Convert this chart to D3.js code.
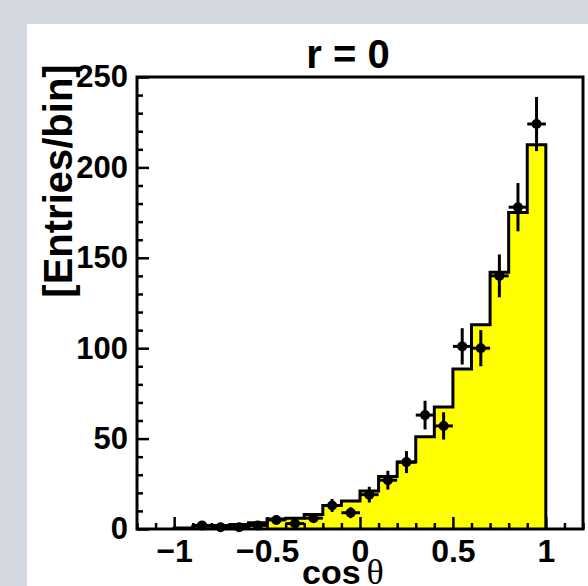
<!DOCTYPE html>
<html>
<head>
<meta charset="utf-8">
<script src="https://cdn.jsdelivr.net/npm/d3@7"></script>
<style>
  html, body { margin: 0; padding: 0; background: #d3d7e0; }
  svg { display: block; }
</style>
</head>
<body>
<svg id="chart" width="588" height="586"></svg>
<script>
// ---- data ----
const binEdges = [-1.0, -0.9, -0.8, -0.7, -0.6, -0.5, -0.4, -0.3, -0.2, -0.1, 0.0, 0.1, 0.2, 0.3, 0.4, 0.5, 0.6, 0.7, 0.8, 0.9, 1.0];
// expected (histogram) contents per bin
const histValues = [0.5, 1.5, 2, 2.5, 3.5, 5.5, 6, 8, 13, 15.5, 21, 29, 37, 51, 67.5, 88.5, 113, 142, 175, 212.5];
// measured data points: bin centres and entries
const dataX = [-0.85, -0.75, -0.65, -0.55, -0.45, -0.35, -0.25, -0.15, -0.05, 0.05, 0.15, 0.25, 0.35, 0.45, 0.55, 0.65, 0.75, 0.85, 0.95];
const dataY = [2, 1, 1, 2, 5, 3, 6, 13, 9, 19, 27, 37, 63, 57, 101, 100, 140, 178, 224];
const xTickValues = [-1, -0.5, 0, 0.5, 1];
const xTickLabels = ["\u22121", "\u22120.5", "0", "0.5", "1"];
const yTickValues = [0, 50, 100, 150, 200, 250];
const yTickLabels = ["0", "50", "100", "150", "200", "250"];
const titleText = "r = 0";
const yTitle = "[Entries/bin]";
const xTitleMain = "cos";
const xTitleSym = "\u03B8";

(function () {
// ---- layout ----
const svg = d3.select("#chart");
const W = 588, H = 586;
const mLeft = 137, mRight = 583, mTop = 77, mBottom = 529;
const x = d3.scaleLinear().domain([-1.2, 1.2]).range([mLeft, mRight]);
const y = d3.scaleLinear().domain([0, 250]).range([mBottom, mTop]);
const font = "'Liberation Sans', Arial, Helvetica, sans-serif";

// pad background
svg.append("rect").attr("x", 0).attr("y", 0).attr("width", W).attr("height", H).attr("fill", "#d3d7e0");
svg.append("rect").attr("x", 27).attr("y", 24).attr("width", W - 27).attr("height", H - 24).attr("fill", "#ffffff");

// histogram
const pts = [[x(binEdges[0]), y(0)]];
histValues.forEach((v, i) => {
  pts.push([x(binEdges[i]), y(v)]);
  pts.push([x(binEdges[i + 1]), y(v)]);
});
pts.push([x(binEdges[binEdges.length - 1]), y(0)]);
svg.append("path")
  .attr("d", d3.line()(pts))
  .attr("fill", "#ffff00")
  .attr("stroke", "#000")
  .attr("stroke-width", 3)
  .attr("stroke-linejoin", "miter");

// data points with error bars
const halfBin = 0.05;
const g = svg.append("g");
dataX.forEach((cx, i) => {
  const n = dataY[i];
  const e = Math.sqrt(n);
  g.append("line")
    .attr("x1", x(cx)).attr("x2", x(cx))
    .attr("y1", y(n - e)).attr("y2", y(n + e))
    .attr("stroke", "#000").attr("stroke-width", 3);
  g.append("line")
    .attr("x1", x(cx - halfBin)).attr("x2", x(cx + halfBin))
    .attr("y1", y(n)).attr("y2", y(n))
    .attr("stroke", "#000").attr("stroke-width", 3);
  g.append("circle")
    .attr("cx", x(cx)).attr("cy", y(n)).attr("r", 5)
    .attr("fill", "#000");
});

// axes
const yMinor = d3.range(0, 251, 10).filter(v => v % 50 !== 0);
const xMinor = d3.range(-12, 13, 1).map(v => v / 10).filter(v => Math.abs(Math.round(v * 10)) % 5 !== 0);

const ya = svg.append("g").attr("transform", `translate(${mLeft},0)`)
  .call(d3.axisLeft(y).tickValues(yTickValues).tickFormat((d, i) => yTickLabels[i]).tickSize(-12).tickPadding(9));
svg.append("g").attr("transform", `translate(${mLeft},0)`)
  .call(d3.axisLeft(y).tickValues(yMinor).tickFormat("").tickSize(-6));

const xa = svg.append("g").attr("transform", `translate(0,${mBottom})`)
  .call(d3.axisBottom(x).tickValues(xTickValues).tickFormat((d, i) => xTickLabels[i]).tickSize(-12).tickPadding(10));
svg.append("g").attr("transform", `translate(0,${mBottom})`)
  .call(d3.axisBottom(x).tickValues(xMinor).tickFormat("").tickSize(-6));

svg.selectAll(".domain").remove();
svg.selectAll(".tick line").attr("stroke", "#000").attr("stroke-width", 2.5);
svg.selectAll(".tick text")
  .attr("fill", "#000")
  .style("font-family", font)
  .style("font-weight", "bold");
ya.selectAll(".tick text").style("font-size", "31px");
xa.selectAll(".tick text").style("font-size", "32px");

// frame
svg.append("rect")
  .attr("x", mLeft).attr("y", mTop)
  .attr("width", mRight - mLeft).attr("height", mBottom - mTop)
  .attr("fill", "none").attr("stroke", "#000").attr("stroke-width", 3);

// title
svg.append("text")
  .attr("x", 348).attr("y", 68)
  .attr("text-anchor", "middle")
  .style("font-family", font).style("font-weight", "bold").style("font-size", "40px")
  .text(titleText);

// y title
svg.append("text")
  .attr("transform", "translate(72,181) rotate(-90)")
  .attr("text-anchor", "middle")
  .style("font-family", font).style("font-weight", "bold").style("font-size", "40px")
  .text(yTitle);

// x title
const xt = svg.append("text")
  .attr("x", 302).attr("y", 584)
  .style("font-family", font).style("font-weight", "bold").style("font-size", "34px");
xt.append("tspan").text(xTitleMain);
xt.append("tspan")
  .attr("dx", 6)
  .style("font-family", "'Liberation Serif', 'Times New Roman', serif")
  .style("font-weight", "normal")
  .style("font-size", "36px")
  .text(xTitleSym);
})();
</script>
</body>
</html>
